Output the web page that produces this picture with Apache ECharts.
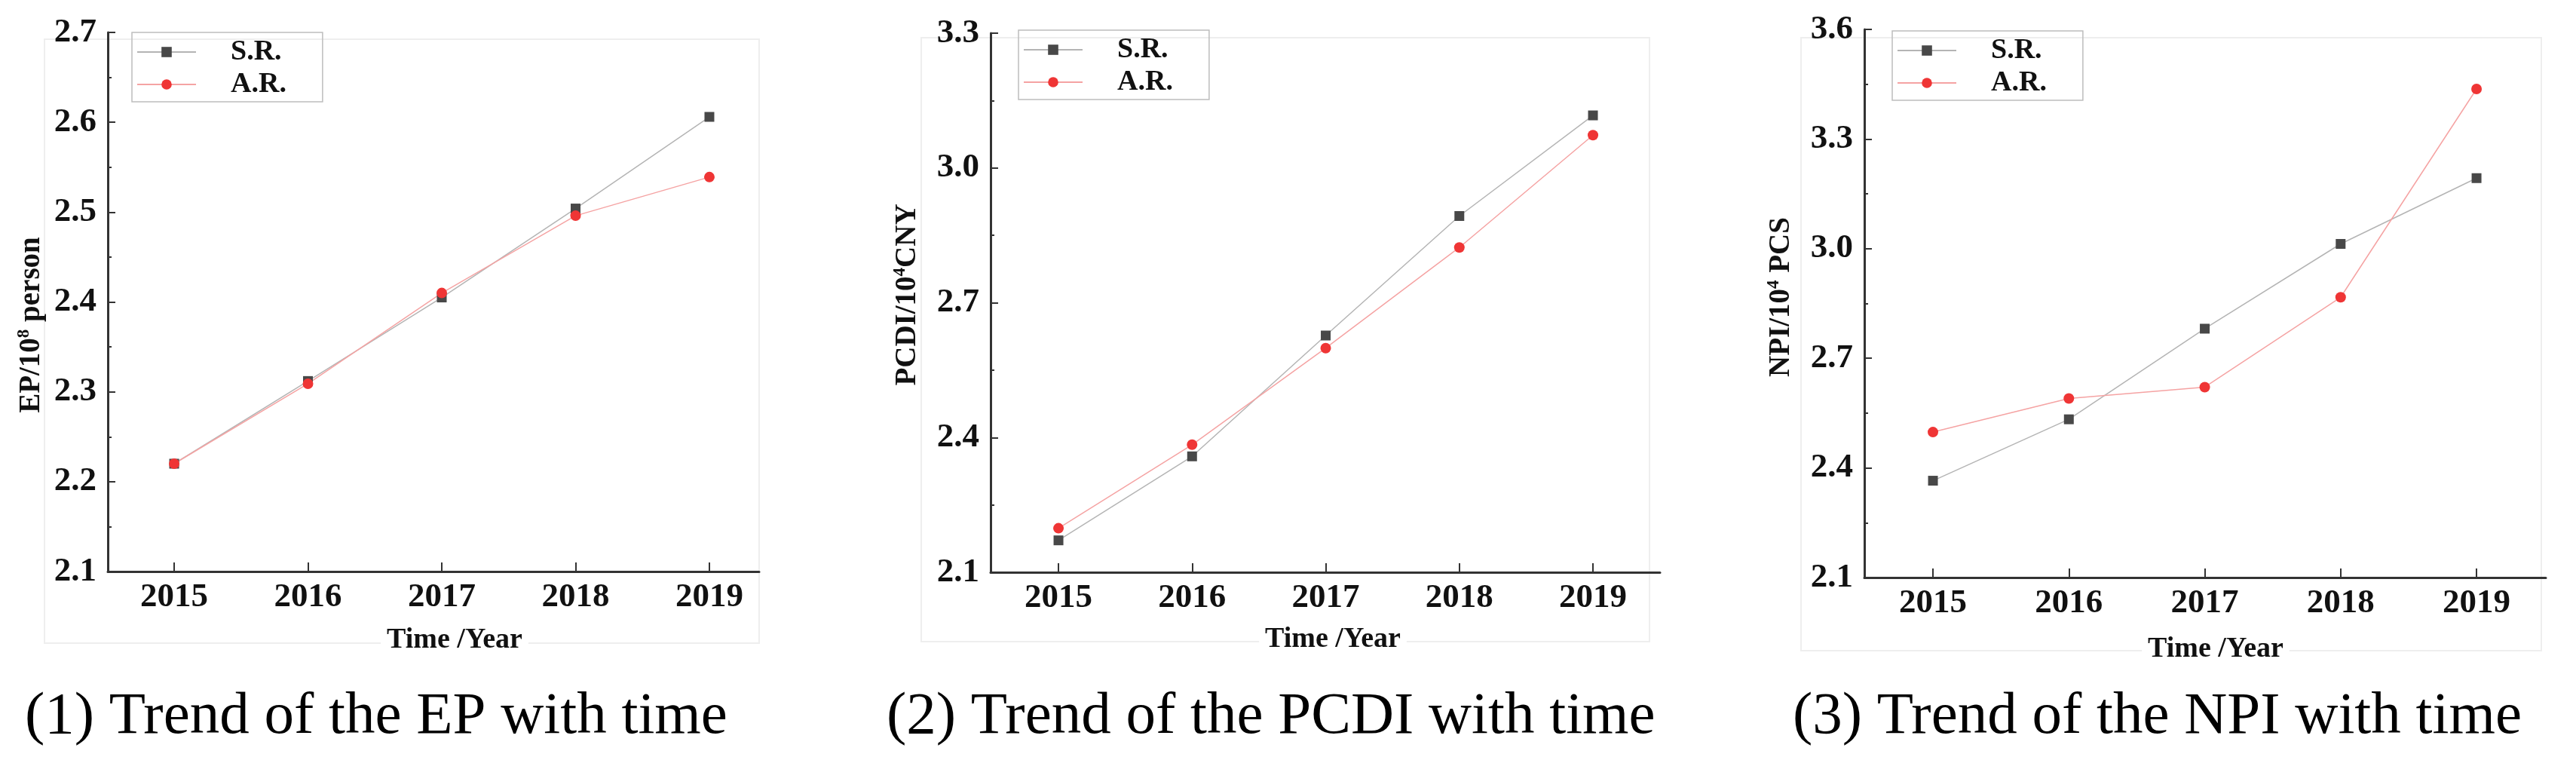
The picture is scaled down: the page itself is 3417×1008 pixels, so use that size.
<!DOCTYPE html>
<html><head><meta charset="utf-8">
<script src="https://cdn.jsdelivr.net/npm/echarts@6/dist/echarts.min.js"></script>
<style>html,body{margin:0;padding:0;background:#fff}#c{width:3417px;height:1008px}</style>
</head><body><div id="c"></div>
<script>
// ---- data ----
const years = [2015, 2016, 2017, 2018, 2019];
const epSR   = [2.220, 2.312, 2.405, 2.504, 2.606];
const epAR   = [2.220, 2.309, 2.410, 2.496, 2.539];
const pcdiSR = [2.171, 2.358, 2.627, 2.893, 3.117];
const pcdiAR = [2.198, 2.384, 2.599, 2.823, 3.073];
const npiSR  = [2.365, 2.533, 2.781, 3.013, 3.193];
const npiAR  = [2.498, 2.590, 2.621, 2.867, 3.437];
const seriesNames = ['S.R.', 'A.R.'];
const yRanges = [[2.1, 2.7, 0.1], [2.1, 3.3, 0.3], [2.1, 3.6, 0.3]];
const captions = ['(1) Trend of the EP with time', '(2) Trend of the PCDI with time', '(3) Trend of the NPI with time'];
const xName = 'Time /Year';

// ---- layout ----
const panels = [
  {grid:{left:143, top:43, width:864, height:715}, xr:[2014.504, 2019.372],
   legend:{left:175, top:43}, yName:{x:42, y:431, t:'{b|EP/10}{s|8}{b| person}'},
   xName:{x:603, y:849}, cap:{x:33}, frame:[59, 52, 948, 801]},
  {grid:{left:1314, top:44, width:888, height:715}, xr:[2014.492, 2019.502],
   legend:{left:1351, top:40}, yName:{x:1204, y:391, t:'{b|PCDI/10}{s|4}{b|CNY}'},
   xName:{x:1768, y:848}, cap:{x:1176}, frame:[1222, 50, 966, 801]},
  {grid:{left:2473, top:39, width:904, height:727}, xr:[2014.495, 2019.51],
   legend:{left:2510, top:41}, yName:{x:2363, y:394, t:'{b|NPI/10}{s|4}{b| PCS}'},
   xName:{x:2939, y:861}, cap:{x:2378}, frame:[2389, 50, 982, 813]}
];
const data = [[epSR, epAR], [pcdiSR, pcdiAR], [npiSR, npiAR]];

const FF = '"Liberation Serif", "Times New Roman", serif';
const AX = '#333';

const option = {
  backgroundColor: '#fff',
  animation: false,
  grid: panels.map(p => Object.assign({containLabel:false}, p.grid)),
  xAxis: panels.map((p, i) => ({
    type: 'value', gridIndex: i, min: p.xr[0], max: p.xr[1],
    axisLine: {show: true, lineStyle: {color: AX, width: 3}},
    axisTick: {show: true, inside: true, length: 12, lineStyle: {color: AX, width: 2}, customValues: years},
    axisLabel: {customValues: years, fontFamily: FF, fontWeight: 'bold', fontSize: 45, color: '#111', margin: 12,
      formatter: v => String(Math.round(v))},
    splitLine: {show: false}
  })),
  yAxis: panels.map((p, i) => ({
    type: 'value', gridIndex: i, min: yRanges[i][0], max: yRanges[i][1], interval: yRanges[i][2],
    axisLine: {show: true, lineStyle: {color: AX, width: 3}},
    axisTick: {show: true, inside: true, length: 10, lineStyle: {color: AX, width: 2}},
    minorTick: {show: true, splitNumber: 2, length: 5, lineStyle: {color: AX, width: 2}},
    axisLabel: {fontFamily: FF, fontWeight: 'bold', fontSize: 45, color: '#111', margin: 15,
      formatter: v => v.toFixed(1)},
    splitLine: {show: false}
  })),
  legend: panels.map(p => ({
    left: p.legend.left, top: p.legend.top, orient: 'vertical',
    padding: [6, 48, 3, 6], itemWidth: 78, itemHeight: 17, itemGap: 3,
    borderColor: '#bdbdbd', borderWidth: 1.5,
    textStyle: {fontFamily: FF, fontWeight: 'bold', fontSize: 38, lineHeight: 40, color: '#111', padding: [0, 0, 0, 41]},
    data: seriesNames
  })),
  series: [],
  graphic: {elements: []}
};

panels.forEach((p, i) => {
  const [sr, ar] = data[i];
  option.series.push({
    name: seriesNames[0], type: 'line', xAxisIndex: i, yAxisIndex: i,
    data: years.map((y, k) => [y, sr[k]]),
    symbol: 'rect', symbolSize: 13,
    itemStyle: {color: '#484848'},
    lineStyle: {color: '#b4b4b4', width: 1.5}
  });
  option.series.push({
    name: seriesNames[1], type: 'line', xAxisIndex: i, yAxisIndex: i,
    data: years.map((y, k) => [y, ar[k]]),
    symbol: 'circle', symbolSize: 14,
    itemStyle: {color: '#ef3535'},
    lineStyle: {color: '#f5a3a3', width: 1.5}
  });
  const g = option.graphic.elements;
  g.push({type: 'rect', z: -5, silent: true,
    shape: {x: p.frame[0], y: p.frame[1], width: p.frame[2], height: p.frame[3]},
    style: {fill: 'none', stroke: '#eeeeee', lineWidth: 2}});
  g.push({type: 'text', x: p.yName.x, y: p.yName.y, rotation: Math.PI / 2, silent: true,
    style: {text: p.yName.t, align: 'center', verticalAlign: 'middle', fill: '#111',
      rich: {b: {fontFamily: FF, fontWeight: 'bold', fontSize: 39, lineHeight: 42, fill: '#111'},
             s: {fontFamily: FF, fontWeight: 'bold', fontSize: 23, lineHeight: 42, verticalAlign: 'top', fill: '#111'}}}});
  g.push({type: 'text', x: p.xName.x, y: p.xName.y, silent: true,
    style: {text: xName, font: 'bold 38px ' + FF, fill: '#111', align: 'center', verticalAlign: 'middle',
      backgroundColor: '#fff', padding: [2, 8]}});
  g.push({type: 'text', x: p.cap.x, y: 951, silent: true,
    style: {text: captions[i], font: '79px ' + FF, fill: '#000', align: 'left', verticalAlign: 'middle'}});
});

const chart = echarts.init(document.getElementById('c'), null, {renderer: 'canvas'});
chart.setOption(option);
</script>
</body></html>
